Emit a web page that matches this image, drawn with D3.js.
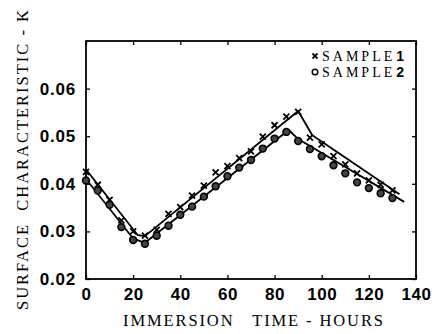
<!DOCTYPE html>
<html><head><meta charset="utf-8">
<script src="https://cdn.jsdelivr.net/npm/d3@7"></script>
<style>html,body{margin:0;padding:0;background:#fff;}svg{display:block;}text{white-space:pre;}</style>
</head><body>
<script>
const hours = [0,5,10,15,20,25,30,35,40,45,50,55,60,65,70,75,80,85,90,95,100,105,110,115,120,125,130];
const sample1K = [0.0425,0.0398,0.0366,0.0323,0.0300,0.0291,0.0303,0.0337,0.0351,0.0375,0.0396,0.0424,0.0437,0.0454,0.0468,0.0499,0.0523,0.0541,0.0551,0.0497,0.0483,0.0458,0.0441,0.0422,0.0407,0.0398,0.0386];
const sample2K = [0.0407,0.0386,0.0356,0.0309,0.0282,0.0274,0.0291,0.0312,0.0335,0.0352,0.0373,0.0395,0.0416,0.0434,0.0450,0.0474,0.0495,0.0509,0.0490,0.0473,0.0458,0.0439,0.0422,0.0403,0.0391,0.0380,0.0370];
const fit1Hours = [0,22,25,90,96,133];
const fit1K = [0.0430,0.0292,0.0290,0.0553,0.0502,0.0378];
const fit2Hours = [0,20,25,86,90,135];
const fit2K = [0.0410,0.0285,0.0276,0.0513,0.0494,0.0362];
const xTicks = [0,20,40,60,80,100,120,140];
const yTicks = [0.02,0.03,0.04,0.05,0.06];
const legendNames = ["SAMPLE","SAMPLE"];
const legendNums = ["1","2"];

const W=438,H=334;
const m={left:86,right:22,top:41,bottom:55};
const svg=d3.select("body").append("svg").attr("width",W).attr("height",H);
const x=d3.scaleLinear().domain([0,140]).range([m.left,W-m.right]);
const y=d3.scaleLinear().domain([0.02,0.07]).range([H-m.bottom,m.top]);
const pw=W-m.right-m.left, ph=H-m.bottom-m.top;

const tickFont='"Liberation Sans", Arial, sans-serif';
const serif='"Liberation Serif", "DejaVu Serif", serif';

const gx=svg.append("g").attr("transform",`translate(0,${H-m.bottom})`)
 .call(d3.axisBottom(x).tickValues(xTicks).tickSize(-4).tickPadding(9).tickFormat(d3.format("d")));
gx.select(".domain").remove();
gx.selectAll("text").attr("font-family",tickFont).attr("font-weight","bold").attr("font-size",17).attr("letter-spacing","0.5px").attr("fill","#000");
gx.selectAll("line").attr("stroke","#000").attr("stroke-width",1.3);

const gy=svg.append("g").attr("transform",`translate(${m.left},0)`)
 .call(d3.axisLeft(y).tickValues(yTicks).tickSize(-4).tickPadding(10).tickFormat(d3.format(".2f")));
gy.select(".domain").remove();
gy.selectAll("text").attr("font-family",tickFont).attr("font-weight","bold").attr("font-size",17).attr("letter-spacing","0.8px").attr("fill","#000");
gy.selectAll("line").attr("stroke","#000").attr("stroke-width",1.3);

const gt=svg.append("g").attr("transform",`translate(0,${m.top})`)
 .call(d3.axisTop(x).tickValues(xTicks).tickSize(-4).tickFormat(""));
gt.select(".domain").remove();
gt.selectAll("line").attr("stroke","#000").attr("stroke-width",1.3);
const gr=svg.append("g").attr("transform",`translate(${W-m.right},0)`)
 .call(d3.axisRight(y).tickValues(yTicks).tickSize(-4).tickFormat(""));
gr.select(".domain").remove();
gr.selectAll("line").attr("stroke","#000").attr("stroke-width",1.3);

svg.append("rect").attr("x",m.left).attr("y",m.top).attr("width",pw).attr("height",ph)
 .attr("fill","none").attr("stroke","#000").attr("stroke-width",1.8);

const line=d3.line().x(d=>x(d[0])).y(d=>y(d[1]));
svg.append("path").datum(fit1Hours.map((h,i)=>[h,fit1K[i]])).attr("d",line)
 .attr("fill","none").attr("stroke","#000").attr("stroke-width",1.8).attr("stroke-linejoin","round");
svg.append("path").datum(fit2Hours.map((h,i)=>[h,fit2K[i]])).attr("d",line)
 .attr("fill","none").attr("stroke","#000").attr("stroke-width",1.8).attr("stroke-linejoin","round");

const cross=(g,cx,cy,s)=>{
  g.append("path").attr("d",`M${cx-s},${cy-s}L${cx+s},${cy+s}M${cx-s},${cy+s}L${cx+s},${cy-s}`)
   .attr("stroke","#000").attr("stroke-width",1.8).attr("fill","none");
};
const mk1=svg.append("g");
hours.forEach((h,i)=>cross(mk1,x(h),y(sample1K[i]),3));
const mk2=svg.append("g");
hours.forEach((h,i)=>{
  mk2.append("circle").attr("cx",x(h)).attr("cy",y(sample2K[i])).attr("r",3.4)
   .attr("fill","#444").attr("stroke","#000").attr("stroke-width",1.6);
});

const lg=svg.append("g");
cross(lg,315,56,2.5);
lg.append("circle").attr("cx",315).attr("cy",72).attr("r",2.8).attr("fill","#fff").attr("stroke","#000").attr("stroke-width",1.5);
legendNames.forEach((t,i)=>{
  const tx=lg.append("text").attr("x",322).attr("y",61+i*16).attr("fill","#000");
  tx.append("tspan").attr("font-family",serif).attr("font-size",14).attr("letter-spacing","3px").text(t);
  tx.append("tspan").attr("font-family",tickFont).attr("font-weight","bold").attr("font-size",14).attr("dx",1).text(legendNums[i]);
});

svg.append("text").attr("x",123).attr("y",326).attr("font-family",serif).attr("font-size",16.5)
 .attr("textLength",260).attr("lengthAdjust","spacing").attr("fill","#000").text("IMMERSION   TIME - HOURS");
svg.append("text").attr("transform","translate(28,310) rotate(-90)").attr("x",0).attr("y",0)
 .attr("font-family",serif).attr("font-size",16.5).attr("textLength",300).attr("lengthAdjust","spacing")
 .attr("fill","#000").text("SURFACE  CHARACTERISTIC - K");
</script>
</body></html>
